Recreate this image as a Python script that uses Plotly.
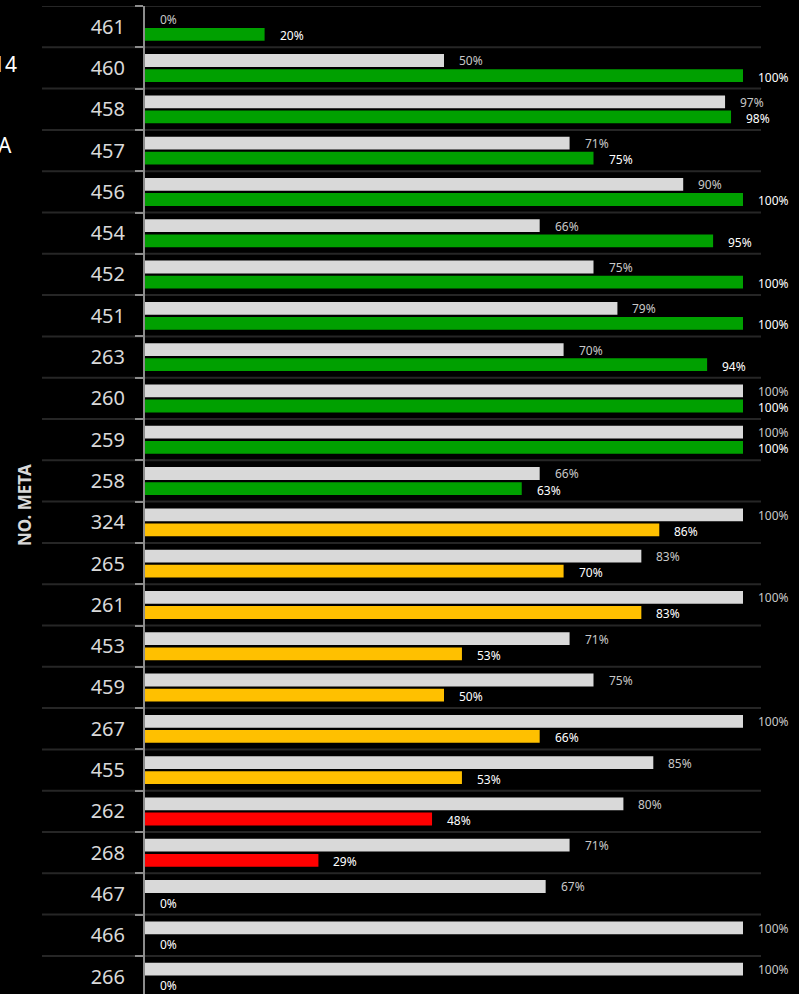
import plotly.graph_objects as go

categories = ["461", "460", "458", "457", "456", "454", "452", "451", "263", "260",
              "259", "258", "324", "265", "261", "453", "459", "267", "455", "262",
              "268", "467", "466", "266"]
meta_values = [0, 50, 97, 71, 90, 66, 75, 79, 70, 100,
               100, 66, 100, 83, 100, 71, 75, 100, 85, 80,
               71, 67, 100, 100]
avance_values = [20, 100, 98, 75, 100, 95, 100, 100, 94, 100,
                 100, 63, 86, 70, 83, 53, 50, 66, 53, 48,
                 29, 0, 0, 0]
avance_status = ["ok"] * 12 + ["mid"] * 7 + ["low"] * 2 + ["none"] * 3

status_colors = {"ok": "#00a000", "mid": "#ffc000", "low": "#ff0000", "none": "#00a000"}
bar_colors = [status_colors[s] for s in avance_status]

W, H = 799, 994
ML, MR, MT, MB = 145, 38, 6, 0
pw = W - ML - MR
ph = H - MT - MB
band = 41.3
ymax = -0.5 + ph / band
xmax = 100 * pw / 598.0

font = "Noto Sans, Open Sans, sans-serif"

fig = go.Figure()
fig.add_trace(go.Bar(
    y=categories, x=meta_values, orientation="h",
    marker=dict(color="#d9d9d9", line=dict(width=0)),
    offset=-0.335, width=0.31, name="Meta", hoverinfo="skip",
))
fig.add_trace(go.Bar(
    y=categories, x=avance_values, orientation="h",
    marker=dict(color=bar_colors, line=dict(width=0)),
    offset=0.03, width=0.31, name="Avance", hoverinfo="skip",
))

annotations = []
for i, (m, a) in enumerate(zip(meta_values, avance_values)):
    annotations.append(dict(
        x=m, y=i - 0.17, xref="x", yref="y", text=f"{m}%", showarrow=False,
        xanchor="left", yanchor="middle", xshift=14, borderpad=0,
        font=dict(family=font, size=12, color="#c8c8c8"),
    ))
    annotations.append(dict(
        x=a, y=i + 0.22, xref="x", yref="y", text=f"{a}%", showarrow=False,
        xanchor="left", yanchor="middle", xshift=14, borderpad=0,
        font=dict(family=font, size=12, color="#ffffff"),
    ))

annotations.append(dict(
    x=(25 - ML) / pw, y=1 - (505 - MT) / ph, xref="paper", yref="paper",
    text="<b>NO. META</b>", textangle=-90, showarrow=False,
    xanchor="center", yanchor="middle",
    font=dict(family=font, size=17, color="#d9d9d9"),
))
annotations.append(dict(
    x=(19 - ML) / pw, y=1 - (64 - MT) / ph, xref="paper", yref="paper",
    text="2014", showarrow=False, xanchor="right", yanchor="middle",
    font=dict(family=font, size=21, color="#ffffff"),
))
annotations.append(dict(
    x=(14 - ML) / pw, y=1 - (145 - MT) / ph, xref="paper", yref="paper",
    text="META", showarrow=False, xanchor="right", yanchor="middle",
    font=dict(family=font, size=21, color="#ffffff"),
))

shapes = []
for k in range(-1, len(categories)):
    shapes.append(dict(
        type="line", xref="paper", yref="y", x0=(42 - ML) / pw, x1=1,
        y0=k + 0.5, y1=k + 0.5, line=dict(color="#262626", width=2), layer="below",
    ))

fig.update_layout(
    width=W, height=H,
    margin=dict(l=ML, r=MR, t=MT, b=MB, pad=0),
    paper_bgcolor="#000000", plot_bgcolor="#000000",
    showlegend=False,
    barmode="overlay",
    annotations=annotations,
    shapes=shapes,
    xaxis=dict(range=[0, xmax], visible=False, fixedrange=True),
    yaxis=dict(
        type="category", categoryorder="array", categoryarray=categories,
        range=[ymax, -0.5], tickson="boundaries", fixedrange=True,
        showgrid=False, zeroline=False,
        showline=True, linecolor="#8c8c8c", linewidth=2,
        ticks="outside", ticklen=8, tickwidth=2, tickcolor="#8c8c8c",
        ticklabelstandoff=14,
        tickfont=dict(family=font, size=20, color="#d9d9d9"),
    ),
)

fig.write_html(
    "out.html",
    config={"displayModeBar": False},
    post_script="document.body.style.margin='0';document.body.style.overflow='hidden';document.body.style.background='#000';",
)
